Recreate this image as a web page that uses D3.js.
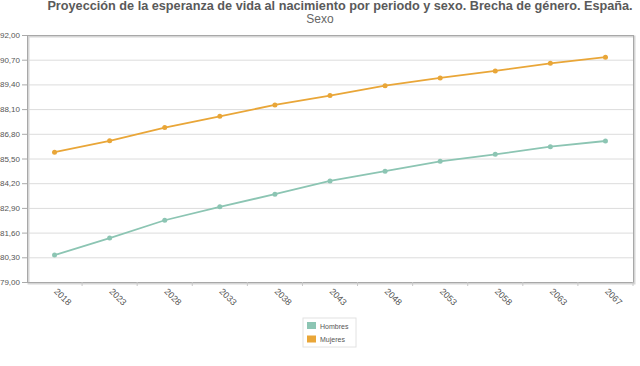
<!DOCTYPE html>
<html>
<head>
<meta charset="utf-8">
<script src="https://cdn.jsdelivr.net/npm/d3@7"></script>
<style>
  body { margin: 0; background: #fff; }
  svg text { font-family: "Liberation Sans", Arial, sans-serif; }
</style>
</head>
<body>
<svg id="chart"></svg>
<script>
const years = ["2018", "2023", "2028", "2033", "2038", "2043", "2048", "2053", "2058", "2063", "2067"];
const hombres = [80.42, 81.31, 82.25, 82.96, 83.62, 84.32, 84.83, 85.35, 85.72, 86.12, 86.42];
const mujeres = [85.83, 86.43, 87.13, 87.72, 88.32, 88.81, 89.33, 89.74, 90.11, 90.51, 90.83];
const yTicks = [79.0, 80.3, 81.6, 82.9, 84.2, 85.5, 86.8, 88.1, 89.4, 90.7, 92.0];

const series = [
  { name: "Hombres", values: hombres, color: "#8cc5b3" },
  { name: "Mujeres", values: mujeres, color: "#e9a638" }
];

const size = { width: 640, height: 366 };
const margin = { top: 35, right: 7, bottom: 84, left: 27 };

const svg = d3.select("#chart")
  .attr("width", size.width)
  .attr("height", size.height);

const x = d3.scaleBand()
  .domain(years)
  .range([margin.left, size.width - margin.right]);

const y = d3.scaleLinear()
  .domain([79, 92])
  .range([size.height - margin.bottom, margin.top]);

const fmt = d3.format(".2f");
const comma = (v) => fmt(v).replace(".", ",");

// title
svg.append("text")
  .text("Proyección de la esperanza de vida al nacimiento por periodo y sexo. Brecha de género. España.")
  .attr("x", 340)
  .attr("y", 10)
  .attr("text-anchor", "middle")
  .attr("font-size", 12.7)
  .attr("font-weight", "bold")
  .attr("fill", "#5a5a5a");

svg.append("text")
  .text("Sexo")
  .attr("x", 320)
  .attr("y", 23)
  .attr("text-anchor", "middle")
  .attr("font-size", 12)
  .attr("fill", "#666");

// grid lines
svg.append("g")
  .selectAll("line")
  .data(yTicks)
  .enter()
  .append("line")
  .attr("x1", margin.left)
  .attr("x2", size.width - margin.right)
  .attr("y1", (d) => y(d) + 0.5)
  .attr("y2", (d) => y(d) + 0.5)
  .attr("stroke", "#dcdcdc")
  .attr("stroke-width", 1);

// plot frame with soft shadow
svg.append("rect")
  .attr("x", margin.left + 1.5)
  .attr("y", margin.top + 1.5)
  .attr("width", size.width - margin.left - margin.right)
  .attr("height", size.height - margin.top - margin.bottom)
  .attr("fill", "none")
  .attr("stroke", "#d6d6d6")
  .attr("stroke-width", 2);

svg.append("rect")
  .attr("x", margin.left + 0.5)
  .attr("y", margin.top + 0.5)
  .attr("width", size.width - margin.left - margin.right)
  .attr("height", size.height - margin.top - margin.bottom)
  .attr("fill", "none")
  .attr("stroke", "#a8a8a8")
  .attr("stroke-width", 1);

// y axis
const yAxis = svg.append("g")
  .attr("transform", `translate(${margin.left},0)`)
  .call(d3.axisLeft(y).tickValues(yTicks).tickFormat(comma).tickSize(5).tickPadding(2));
yAxis.select(".domain").remove();
yAxis.selectAll("line").attr("stroke", "#aaa");
yAxis.selectAll("text")
  .attr("font-size", 8)
  .attr("fill", "#555")
  .attr("font-family", "\"Liberation Sans\", Arial, sans-serif");

// x axis: ticks on band boundaries
svg.append("g")
  .selectAll("line")
  .data(years)
  .enter()
  .append("line")
  .attr("x1", (d) => x(d) + x.bandwidth())
  .attr("x2", (d) => x(d) + x.bandwidth())
  .attr("y1", size.height - margin.bottom)
  .attr("y2", size.height - margin.bottom + 4)
  .attr("stroke", "#c8c8c8");

svg.append("g")
  .selectAll("text")
  .data(years)
  .enter()
  .append("text")
  .text((d) => d)
  .attr("transform", (d) => `translate(${x(d) + x.bandwidth() / 2 - 1},${size.height - margin.bottom + 10}) rotate(45)`)
  .attr("font-size", 9)
  .attr("fill", "#555");

// lines and points
const line = d3.line()
  .x((d, i) => x(years[i]) + x.bandwidth() / 2)
  .y((d) => y(d));

series.forEach((s) => {
  svg.append("path")
    .datum(s.values)
    .attr("d", line)
    .attr("fill", "none")
    .attr("stroke", s.color)
    .attr("stroke-width", 1.8);

  svg.append("g")
    .selectAll("circle")
    .data(s.values)
    .enter()
    .append("circle")
    .attr("cx", (d, i) => x(years[i]) + x.bandwidth() / 2)
    .attr("cy", (d) => y(d))
    .attr("r", 2.5)
    .attr("fill", s.color);
});

// legend
const legend = svg.append("g").attr("transform", "translate(303,318)");
legend.append("rect")
  .attr("width", 53)
  .attr("height", 29)
  .attr("fill", "#fff")
  .attr("stroke", "#e2e2e2");

series.forEach((s, i) => {
  legend.append("rect")
    .attr("x", 4)
    .attr("y", 4 + i * 13.5)
    .attr("width", 9)
    .attr("height", 7)
    .attr("fill", s.color);
  legend.append("text")
    .text(s.name)
    .attr("x", 17)
    .attr("y", 10.5 + i * 13.5)
    .attr("font-size", 7)
    .attr("fill", "#555");
});
</script>
</body>
</html>
